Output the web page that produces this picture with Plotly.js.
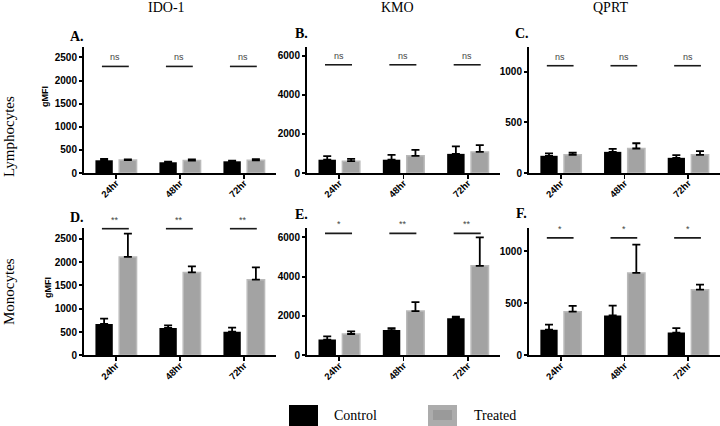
<!DOCTYPE html>
<html>
<head>
<meta charset="utf-8">
<script src="https://cdn.plot.ly/plotly-3.0.1.min.js"></script>
<style>html,body{margin:0;padding:0;background:#fff}#chart{width:720px;height:426px}</style>
</head>
<body>
<div id="chart"></div>
<script>
// ---- data ----
const categories = ["24hr", "48hr", "72hr"];
const markers = ["IDO-1", "KMO", "QPRT"];
const cellTypes = ["Lymphocytes", "Monocytes"];
const panelLetters = ["A.", "B.", "C.", "D.", "E.", "F."];

const idoLymControl = [275, 232, 253];
const idoLymControlErr = [28, 13, 14];
const idoLymTreated = [280, 268, 274];
const idoLymTreatedErr = [12, 28, 28];

const kmoLymControl = [680, 680, 980];
const kmoLymControlErr = [180, 250, 380];
const kmoLymTreated = [606, 880, 1080];
const kmoLymTreatedErr = [120, 300, 350];

const qprtLymControl = [170, 209, 150];
const qprtLymControlErr = [23, 30, 26];
const qprtLymTreated = [180, 242, 180];
const qprtLymTreatedErr = [20, 52, 36];

const idoMonoControl = [674, 588, 508];
const idoMonoControlErr = [114, 56, 86];
const idoMonoTreated = [2112, 1781, 1624];
const idoMonoTreatedErr = [500, 129, 264];

const kmoMonoControl = [800, 1283, 1883];
const kmoMonoControlErr = [167, 100, 84];
const kmoMonoTreated = [1083, 2250, 4550];
const kmoMonoTreatedErr = [134, 450, 1450];

const qprtMonoControl = [246, 383, 219];
const qprtMonoControlErr = [49, 95, 43];
const qprtMonoTreated = [420, 793, 632];
const qprtMonoTreatedErr = [55, 272, 49];

const sigIdoLym = ["ns", "ns", "ns"];
const sigKmoLym = ["ns", "ns", "ns"];
const sigQprtLym = ["ns", "ns", "ns"];
const sigIdoMono = ["**", "**", "**"];
const sigKmoMono = ["*", "**", "**"];
const sigQprtMono = ["*", "*", "*"];
const sigLevel = [2305, 5540, 1060, 2720, 6200, 1130];

const yMax = [2725, 6450, 1245, 2745, 6500, 1230];
const yStep = [500, 2000, 500, 500, 2000, 500];

// ---- build ----
const panels = [
  [idoLymControl, idoLymControlErr, idoLymTreated, idoLymTreatedErr, sigIdoLym],
  [kmoLymControl, kmoLymControlErr, kmoLymTreated, kmoLymTreatedErr, sigKmoLym],
  [qprtLymControl, qprtLymControlErr, qprtLymTreated, qprtLymTreatedErr, sigQprtLym],
  [idoMonoControl, idoMonoControlErr, idoMonoTreated, idoMonoTreatedErr, sigIdoMono],
  [kmoMonoControl, kmoMonoControlErr, kmoMonoTreated, kmoMonoTreatedErr, sigKmoMono],
  [qprtMonoControl, qprtMonoControlErr, qprtMonoTreated, qprtMonoTreatedErr, sigQprtMono]
];

const W = 720, H = 426;
const colX = [[84, 276], [307, 500], [529, 720]];
const rowY = [[47, 173], [227.5, 355.3]];
const SANS = "Liberation Sans, Arial, sans-serif";
const SERIF = "Liberation Serif, Times New Roman, serif";
const xIdx = categories.map((c, i) => i);
const zeros = categories.map(() => 0);

const traces = [];
const annotations = [];
const layout = {
  width: W, height: H,
  margin: {l: 0, r: 0, t: 0, b: 0, pad: 0},
  paper_bgcolor: "#fff", plot_bgcolor: "rgba(0,0,0,0)",
  showlegend: false,
  barmode: "group",
  bargap: 0.257,
  bargroupgap: 0.27,
  shapes: [],
  annotations: annotations
};

panels.forEach((p, k) => {
  const row = Math.floor(k / 3), col = k % 3;
  const n = k + 1;
  const xa = "x" + (n === 1 ? "" : n), ya = "y" + (n === 1 ? "" : n);
  const xkey = "xaxis" + (n === 1 ? "" : n), ykey = "yaxis" + (n === 1 ? "" : n);
  layout[xkey] = {
    domain: [colX[col][0] / W, colX[col][1] / W],
    anchor: ya,
    range: [-0.5, 2.5],
    tickmode: "array", tickvals: xIdx, ticktext: categories,
    tickangle: -45,
    ticklabelstandoff: -5,
    ticks: "outside", ticklen: 4, tickwidth: 1.5, tickcolor: "#000",
    showline: true, linewidth: 2, linecolor: "#000",
    showgrid: false, zeroline: false, fixedrange: true,
    tickfont: {family: SANS, size: 9.5, color: "#000", weight: "bold"}
  };
  layout[ykey] = {
    domain: [1 - rowY[row][1] / H, 1 - rowY[row][0] / H],
    anchor: xa,
    range: [0, yMax[k]],
    dtick: yStep[k], tick0: 0,
    ticks: "outside", ticklen: 3, tickwidth: 2, tickcolor: "#000",
    showline: true, linewidth: 2, linecolor: "#000",
    showgrid: false, zeroline: false, fixedrange: true,
    tickfont: {family: SANS, size: 10, color: "#000", weight: "bold"}
  };
  traces.push({
    type: "bar", name: "Control", x: xIdx, y: p[0], xaxis: xa, yaxis: ya,
    marker: {color: "#000000"},
    error_y: {type: "data", symmetric: false, array: p[1], arrayminus: zeros,
              color: "#000", thickness: 1.8, width: 4},
    hoverinfo: "skip", cliponaxis: false
  });
  traces.push({
    type: "bar", name: "Treated", x: xIdx, y: p[2], xaxis: xa, yaxis: ya,
    marker: {color: "#a3a3a3", line: {color: "#bababa", width: 1.5}},
    error_y: {type: "data", symmetric: false, array: p[3], arrayminus: zeros,
              color: "#000", thickness: 1.8, width: 4},
    hoverinfo: "skip", cliponaxis: false
  });
  // significance lines
  const lx = [], ly = [];
  xIdx.forEach(i => { lx.push(i - 0.22, i + 0.2, null); ly.push(sigLevel[k], sigLevel[k], null); });
  traces.push({
    type: "scatter", mode: "lines", x: lx, y: ly, xaxis: xa, yaxis: ya,
    line: {color: "#1a1a1a", width: 1.6}, hoverinfo: "skip", cliponaxis: false
  });
  p[4].forEach((s, i) => {
    annotations.push({
      xref: xa, yref: ya, x: i - 0.01, y: sigLevel[k], text: s, showarrow: false,
      xanchor: "center", yanchor: "bottom", yshift: 2,
      font: {family: SANS, size: 9, color: "#444"}
    });
  });
  // panel letter
  const letterPos = [[68, 36], [293, 33], [513, 33], [68, 217], [293, 215], [514, 213]];
  annotations.push({
    xref: "paper", yref: "paper", x: letterPos[k][0] / W, y: 1 - letterPos[k][1] / H,
    text: "<b>" + panelLetters[k] + "</b>", showarrow: false,
    xanchor: "left", yanchor: "middle",
    font: {family: SERIF, size: 14, color: "#000"}
  });
});

// column titles
const titlePos = [166, 397, 610];
markers.forEach((m, i) => annotations.push({
  xref: "paper", yref: "paper", x: titlePos[i] / W, y: 1 - 7 / H,
  text: m, showarrow: false, xanchor: "center", yanchor: "middle",
  font: {family: SERIF, size: 14, color: "#000"}
}));
// row labels
const rowLabelY = [137, 292];
cellTypes.forEach((c, i) => annotations.push({
  xref: "paper", yref: "paper", x: 9 / W, y: 1 - rowLabelY[i] / H,
  text: c, showarrow: false, textangle: -90, xanchor: "center", yanchor: "middle",
  font: {family: SERIF, size: 15, color: "#000"}
}));
// gMFI axis titles
[[45, 97], [48, 288]].forEach(pos => annotations.push({
  xref: "paper", yref: "paper", x: pos[0] / W, y: 1 - pos[1] / H,
  text: "<b>gMFI</b>", showarrow: false, textangle: -90, xanchor: "center", yanchor: "middle",
  font: {family: SANS, size: 9, color: "#000"}
}));

// legend
layout.shapes.push(
  {type: "rect", xref: "paper", yref: "paper", x0: 289 / W, x1: 318 / W, y0: 0, y1: 1 - 405 / H,
   fillcolor: "#000", line: {width: 0}},
  {type: "rect", xref: "paper", yref: "paper", x0: 428 / W, x1: 457 / W, y0: 0, y1: 1 - 405 / H,
   fillcolor: "#acacac", line: {width: 0}},
  {type: "rect", xref: "paper", yref: "paper", x0: 433 / W, x1: 452 / W, y0: 1 - 420 / H, y1: 1 - 410 / H,
   fillcolor: "#9a9a9a", line: {width: 0}}
);
[["Control", 332], ["Treated", 472]].forEach(l => annotations.push({
  xref: "paper", yref: "paper", x: l[1] / W, y: 1 - 415 / H,
  text: l[0], showarrow: false, xanchor: "left", yanchor: "middle",
  font: {family: SERIF, size: 14, color: "#000"}
}));

Plotly.newPlot("chart", traces, layout, {staticPlot: true, displayModeBar: false});
</script>
</body>
</html>
